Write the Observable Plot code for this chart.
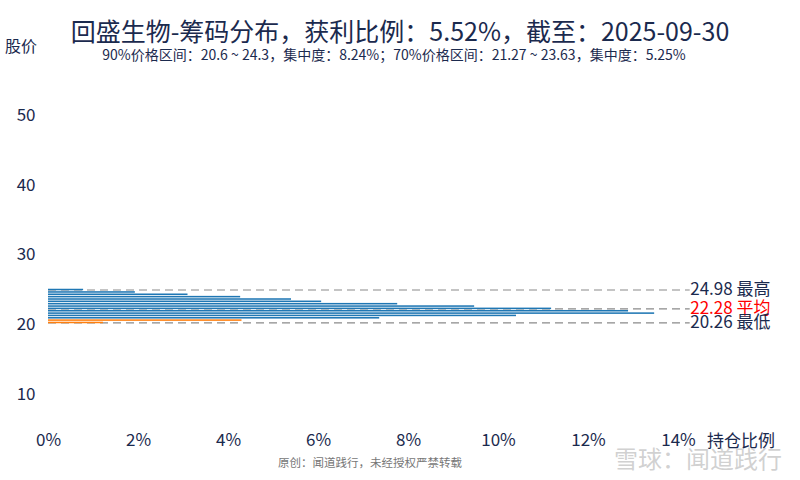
<!DOCTYPE html>
<html><head><meta charset="utf-8">
<script src="https://cdn.jsdelivr.net/npm/d3@7"></script>
<script src="https://cdn.jsdelivr.net/npm/@observablehq/plot@0.6"></script>
<style>
body{margin:0;background:#fff;}
#wrap{position:relative;width:800px;height:480px;font-family:"Noto Sans CJK SC","Noto Sans",sans-serif;overflow:hidden;color:#1b2a4e}
#wrap svg{position:absolute;left:0;top:0}
.t{position:absolute;white-space:nowrap;line-height:1}
</style></head><body><div id="wrap"></div>
<script>
// chip distribution bins (price) and holding share (%)
const prices = [20.26, 20.60, 20.93, 21.27, 21.60, 21.94, 22.28, 22.61, 22.95, 23.29, 23.62, 23.96, 24.30, 24.63, 24.98];
const shares = [1.22, 4.30, 7.36, 10.40, 13.47, 12.89, 11.18, 9.47, 7.76, 6.07, 5.40, 4.27, 3.10, 1.93, 0.78];
const status = ["获利","获利","套牢","套牢","套牢","套牢","套牢","套牢","套牢","套牢","套牢","套牢","套牢","套牢","套牢"];
const refPrices = [24.98, 22.28, 20.26];
const refLabels = ["最高", "平均", "最低"];
const xTicks = [0, 2, 4, 6, 8, 10, 12, 14];
const yTicks = [10, 20, 30, 40, 50];
const titleText = "回盛生物-筹码分布，获利比例：5.52%，截至：2025-09-30";
const subText = "90%价格区间：20.6 ~ 24.3，集中度：8.24%；70%价格区间：21.27 ~ 23.63，集中度：5.25%";

const bars = prices.map((p, i) => ({p, v: shares[i], s: status[i]}));
const refs = refPrices.map((p, i) => ({p, label: refLabels[i], avg: refLabels[i] === "平均"}));

const font = '"Noto Sans CJK SC","Noto Sans",sans-serif';
const navy = "#1b2a4e";
const chart = Plot.plot({
  width: 800, height: 480,
  marginLeft: 48, marginRight: 122, marginTop: 59, marginBottom: 51,
  style: {fontFamily: font, fontSize: "17px", color: navy, background: "transparent"},
  x: {domain: [0, 14]},
  y: {domain: [5, 58]},
  marks: [
    Plot.ruleY(refs, {y: "p", x1: 0, x2: 14.26, stroke: "#8a8a8a", strokeWidth: 1.2, strokeDasharray: "8,5"}),
    Plot.rectX(bars, {x1: 0, x2: "v", y1: d => d.p - 0.11, y2: d => d.p + 0.11,
      fill: d => d.s === "获利" ? "#ff7f0e" : "#1f77b4"}),
    Plot.text(refs, {x: 14.26, y: "p", text: d => d.p.toFixed(2) + " " + d.label, textAnchor: "start", dx: 0,
      fontSize: 17, fill: d => d.avg ? "#ff0000" : navy}),
    Plot.axisX({ticks: xTicks, tickFormat: d => d + "%", tickSize: 0, tickPadding: 4, label: null, fontSize: 17}),
    Plot.axisY({ticks: yTicks, tickSize: 0, tickPadding: 13, label: null, fontSize: 17})
  ]
});
const wrap = document.getElementById("wrap");
wrap.appendChild(chart);
function addText(txt, css) {
  const d = document.createElement("div");
  d.className = "t"; d.textContent = txt; d.style.cssText += css; wrap.appendChild(d); return d;
}
addText(titleText, "left:0;width:800px;text-align:center;top:18px;font-size:25px;");
addText(subText, "left:0;width:788px;text-align:center;top:47px;font-size:14px;");
addText("股价", "left:5px;top:37px;font-size:16px;");
addText("持仓比例", "left:707px;top:431px;font-size:17px;");
addText("原创：闻道践行，未经授权严禁转载", "left:0;width:740px;text-align:center;top:457px;font-size:11.5px;color:#777;");
addText("雪球：闻道践行", "left:614px;top:446px;font-size:24px;color:rgba(170,170,170,0.55);");
</script></body></html>
